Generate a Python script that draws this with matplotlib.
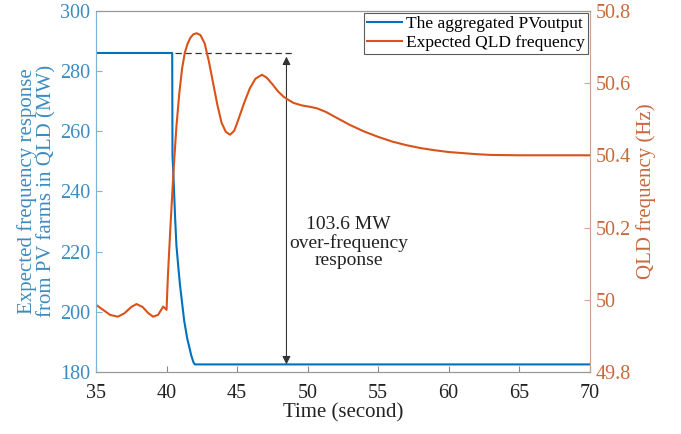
import matplotlib
matplotlib.use("Agg")
import matplotlib.pyplot as plt

plt.rcParams['font.family'] = ['Liberation Serif', 'DejaVu Serif']

# 数据
pv_time = [35.0, 40.4, 40.42, 40.5, 40.6, 40.7, 40.85, 40.95, 41.1, 41.25,
           41.47, 41.6, 41.75, 41.9, 42.0, 70.0]
pv_mw = [286.0, 286.0, 252.0, 244.0, 232.0, 222.0, 214.0, 209.0, 203.0, 197.0,
         191.0, 188.5, 185.5, 183.3, 182.5, 182.5]

freq_time = [35.0, 35.5, 36.0, 36.55, 37.0, 37.5, 37.87, 38.3, 38.7, 39.05,
             39.4, 39.76, 40.0, 40.1, 40.3, 40.5, 40.7, 40.9, 41.1, 41.3,
             41.5, 41.7, 41.9, 42.13, 42.4, 42.7, 43.0, 43.3, 43.6,
             43.9, 44.2, 44.5, 44.8, 45.1, 45.5, 45.9, 46.3, 46.76, 47.1,
             47.5, 47.9, 48.3, 48.53, 49.0, 49.6, 50.2, 50.67, 51.3, 52.0,
             53.0, 54.0, 55.0, 56.0, 57.0, 58.0, 59.0, 60.0, 61.0, 62.0,
             63.0, 65.0, 70.0]
freq_hz = [49.986, 49.972, 49.958, 49.953, 49.962, 49.98, 49.988, 49.98, 49.963, 49.953,
           49.958, 49.981, 49.972, 50.07, 50.22, 50.36, 50.48, 50.57, 50.64, 50.685,
           50.71, 50.726, 50.735, 50.738, 50.733, 50.71, 50.66, 50.6, 50.54,
           50.49, 50.465, 50.457, 50.468, 50.5, 50.545, 50.585, 50.612, 50.623, 50.615,
           50.597, 50.577, 50.562, 50.556, 50.545, 50.538, 50.534, 50.53, 50.52, 50.505,
           50.484, 50.466, 50.451, 50.438, 50.428, 50.42, 50.414, 50.409, 50.406, 50.403,
           50.401, 50.4, 50.4]

x_ticks = [35, 40, 45, 50, 55, 60, 65, 70]
left_ticks = [180, 200, 220, 240, 260, 280, 300]
right_ticks = [49.8, 50.0, 50.2, 50.4, 50.6, 50.8]
right_labels = ['49.8', '50', '50.2', '50.4', '50.6', '50.8']

pv_high = 286.0
pv_low = 182.5

blue = '#0072BD'
orange = '#D95319'
blue_txt = '#3a8cc0'
orange_txt = '#c8693c'

fig = plt.figure(figsize=(6.81, 4.34), dpi=100)
ax = fig.add_axes([0.141, 0.143, 0.725, 0.832])
ax2 = ax.twinx()

l1, = ax.plot(pv_time, pv_mw, color=blue, lw=1.5, label='The aggregated PVoutput')
l2, = ax2.plot(freq_time, freq_hz, color=orange, lw=1.5, label='Expected QLD frequency')

ax.set_xlim(35, 70)
ax.set_ylim(180, 300)
ax2.set_ylim(49.8, 50.8)
ax.set_xticks(x_ticks)
ax.set_yticks(left_ticks)
ax2.set_yticks(right_ticks)
ax2.set_yticklabels(right_labels)

# 虚线和双向箭头
ax.plot([40.6, 49.0], [pv_high, pv_high], color='#333333', lw=0.9, ls=(0, (5, 3)))
ax.annotate('', xy=(48.5, pv_low), xytext=(48.5, pv_high - 1.2),
            arrowprops=dict(arrowstyle='<|-|>', color='#333333', lw=0.8,
                            mutation_scale=12, shrinkA=0, shrinkB=0))
ax.text(52.9, 223, '103.6 MW\nover-frequency\nresponse', ha='center', va='center',
        fontsize=14, color='#222222', linespacing=1.05)

ax.set_xlabel('Time (second)', fontsize=15, color='#222222', labelpad=0)
ax.set_ylabel('Expected frequency response\nfrom PV farms in QLD (MW)',
              fontsize=15, color=blue_txt, labelpad=3, linespacing=0.95)
ax2.set_ylabel('QLD frequency (Hz)', fontsize=15, color=orange_txt, labelpad=4)

ax.tick_params(axis='x', direction='in', labelsize=14.5, labelcolor='#222222',
               colors='#888888', length=4, pad=9)
ax.tick_params(axis='y', direction='in', labelsize=14.5, labelcolor=blue_txt,
               colors='#7fb3d5', length=4, pad=4)
ax2.tick_params(axis='y', direction='in', labelsize=14.5, labelcolor=orange_txt,
                colors='#d9a68a', length=4, pad=4)
for tl in ax.get_yticklabels():
    tl.set_color(blue_txt)
for tl in ax2.get_yticklabels():
    tl.set_color(orange_txt)

for a in (ax, ax2):
    a.spines['top'].set_color('#999999')
    a.spines['bottom'].set_color('#999999')
    a.spines['left'].set_color('#7fb3d5')
    a.spines['right'].set_color('#c9a48e')
    for s in a.spines.values():
        s.set_linewidth(0.8)

leg = ax2.legend(handles=[l1, l2], loc='upper right', fontsize=12.5,
                 frameon=True, fancybox=False, edgecolor='#333333',
                 borderaxespad=0.1, handlelength=2.0, handletextpad=0.2,
                 borderpad=0.2, labelspacing=0.15)
leg.get_frame().set_linewidth(0.8)

plt.savefig('out.png', dpi=100)
